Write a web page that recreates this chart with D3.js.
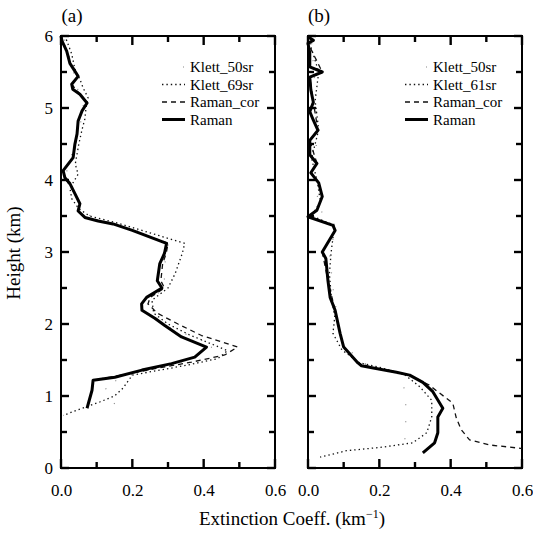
<!DOCTYPE html>
<html>
<head>
<meta charset="utf-8">
<script src="https://cdn.jsdelivr.net/npm/d3@7"></script>
<style>
  body { margin: 0; background: #fff; }
  text { font-family: "Liberation Serif", "Times New Roman", serif; fill: #000; }
</style>
</head>
<body>
<div id="wrapper"></div>
<script>
// ---- data (height km, extinction km^-1) ----
const aRamanH = [6.0,5.93,5.79,5.62,5.55,5.44,5.33,5.26,5.19,5.07,4.96,4.82,4.64,4.5,4.31,4.22,4.13,4.03,3.95,3.81,3.67,3.57,3.48,3.43,3.39,3.3,3.12,2.98,2.84,2.6,2.5,2.37,2.28,2.19,2.08,1.98,1.82,1.68,1.54,1.45,1.36,1.26,1.22,1.08,0.83]
const aRamanV = [0.0,0.003,0.016,0.025,0.034,0.048,0.03,0.033,0.053,0.073,0.059,0.048,0.045,0.039,0.034,0.02,0.006,0.011,0.025,0.039,0.053,0.048,0.067,0.104,0.146,0.2,0.296,0.29,0.277,0.27,0.283,0.24,0.226,0.227,0.263,0.291,0.338,0.408,0.375,0.31,0.227,0.151,0.09,0.087,0.073]

const aRamanCorH = [6.0,5.79,5.62,5.44,5.33,5.19,5.07,4.96,4.82,4.64,4.31,4.13,4.03,3.81,3.67,3.57,3.48,3.39,3.3,3.12,2.98,2.84,2.6,2.5,2.37,2.28,2.15,2.0,1.84,1.68,1.57,1.47,1.38,1.29,1.22]
const aRamanCorV = [0.0,0.016,0.025,0.048,0.03,0.053,0.073,0.059,0.048,0.045,0.034,0.006,0.011,0.039,0.053,0.048,0.067,0.146,0.2,0.3,0.295,0.285,0.28,0.29,0.25,0.244,0.27,0.328,0.394,0.495,0.459,0.366,0.263,0.17,0.09]

const aKlett69H = [5.95,5.75,5.54,5.4,5.28,5.14,5.0,4.85,4.7,4.5,4.22,4.08,3.89,3.74,3.6,3.5,3.4,3.25,3.12,2.98,2.84,2.7,2.5,2.33,2.15,2.0,1.85,1.63,1.52,1.43,1.29,1.11,1.0,0.92,0.85,0.73]
const aKlett69V = [0.015,0.03,0.039,0.053,0.062,0.076,0.07,0.067,0.059,0.05,0.04,0.048,0.025,0.03,0.05,0.08,0.16,0.26,0.347,0.34,0.33,0.32,0.3,0.255,0.26,0.3,0.36,0.467,0.44,0.355,0.2,0.174,0.15,0.11,0.07,0.006]

const aKlett50H = [5.95,5.6,5.2,5.0,4.6,4.1,3.7,3.45,3.3,3.1,2.8,2.5,2.3,2.0,1.7,1.5,1.3,1.15,0.83]
const aKlett50V = [0.01,0.03,0.05,0.065,0.045,0.015,0.05,0.09,0.21,0.3,0.29,0.29,0.24,0.28,0.43,0.36,0.2,0.12,0.157]

const bRamanH = [5.99,5.94,5.9,5.76,5.57,5.5,5.43,5.25,5.08,4.95,4.83,4.69,4.55,4.35,4.23,4.1,3.96,3.77,3.58,3.49,3.37,3.3,3.0,2.91,2.6,2.37,2.19,1.87,1.68,1.46,1.42,1.39,1.33,1.29,1.19,1.06,0.83,0.71,0.49,0.35,0.21]
const bRamanV = [0.0,0.015,0.0,0.005,0.005,0.04,0.005,0.008,0.015,0.005,0.015,0.028,0.005,0.005,0.025,0.008,0.03,0.04,0.025,0.0,0.07,0.076,0.04,0.05,0.056,0.062,0.076,0.09,0.1,0.14,0.15,0.183,0.248,0.285,0.322,0.35,0.378,0.364,0.364,0.355,0.322]

const bRamanCorH = [5.99,5.94,5.9,5.5,5.43,5.08,4.69,4.55,4.23,4.1,3.96,3.77,3.58,3.49,3.37,3.3,3.0,2.6,2.19,1.87,1.68,1.46,1.39,1.29,1.15,0.9,0.69,0.53,0.39,0.32,0.29,0.27]
const bRamanCorV = [0.0,0.015,0.0,0.04,0.005,0.015,0.028,0.005,0.025,0.008,0.03,0.04,0.025,0.0,0.07,0.076,0.04,0.056,0.076,0.09,0.1,0.14,0.183,0.285,0.34,0.406,0.416,0.43,0.453,0.509,0.565,0.6]

const bKlett61H = [5.9,5.5,5.1,4.7,4.3,4.0,3.7,3.5,3.37,3.2,3.0,2.7,2.4,2.1,1.87,1.64,1.46,1.4,1.3,1.13,0.94,0.71,0.49,0.35,0.29,0.24,0.15]
const bKlett61V = [0.005,0.03,0.02,0.03,0.01,0.025,0.035,0.01,0.075,0.07,0.065,0.06,0.065,0.075,0.07,0.095,0.145,0.2,0.27,0.313,0.347,0.347,0.333,0.294,0.21,0.108,0.034]

const bKlett50H = [5.9,5.3,4.7,4.1,3.6,3.35,3.0,2.5,2.0,1.7,1.45,1.3,1.01,0.55,0.3]
const bKlett50V = [0.01,0.02,0.025,0.02,0.03,0.08,0.06,0.07,0.085,0.1,0.16,0.26,0.274,0.274,0.27]

const legendA = ["Klett_50sr", "Klett_69sr", "Raman_cor", "Raman"]
const legendB = ["Klett_50sr", "Klett_61sr", "Raman_cor", "Raman"]
const xTicks = [0, 0.2, 0.4, 0.6]
const xMinorTicks = [0.1, 0.3, 0.5]
const yTicks = [0, 1, 2, 3, 4, 5, 6]
const yMinorTicks = [0.5, 1.5, 2.5, 3.5, 4.5, 5.5]

// ---- layout ----
const width = 533
const height = 534
const plotTop = 36
const plotBottom = 468

const styles = [
  {dash: "1,16", width: 1.2, color: "#888"},   // Klett_50sr
  {dash: "1.4,3", width: 1.3, color: "#111"},  // Klett_xxsr
  {dash: "5,4", width: 1.3, color: "#111"},    // Raman_cor
  {dash: null, width: 3, color: "#000"},       // Raman
]

const svg = d3.select("#wrapper")
  .append("svg")
    .attr("width", width)
    .attr("height", height)

const yScale = d3.scaleLinear().domain([0, 6]).range([plotBottom, plotTop])

const lineGen = (xScale) => d3.line()
  .x(d => xScale(d[1]))
  .y(d => yScale(d[0]))

function zip(h, v) {
  return h.map((d, i) => [d, v[i]])
}

function drawPanel(left, right, label, series, legendNames, legendX, showYLabels) {
  const xScale = d3.scaleLinear().domain([0, 0.6]).range([left, right])
  const g = svg.append("g")

  // tick labels via axes (no tick lines), tick marks drawn inward below
  g.append("g")
    .attr("transform", `translate(0,${plotBottom})`)
    .call(d3.axisBottom(xScale).tickValues(xTicks).tickSize(0).tickPadding(16)
      .tickFormat(d3.format(".1f")))
  if (showYLabels) {
    g.append("g")
      .attr("transform", `translate(${left},0)`)
      .call(d3.axisLeft(yScale).tickValues(yTicks).tickSize(0).tickPadding(8)
        .tickFormat(d3.format("d")))
  }
  g.selectAll(".domain").remove()
  g.selectAll(".tick line").remove()
  g.selectAll(".tick text")
    .style("font-family", '"Liberation Serif", serif')
    .style("font-size", "17px")
    .attr("fill", "#000")

  const xt = xTicks.map(d => [d, 9]).concat(xMinorTicks.map(d => [d, 6]))
  const yt = yTicks.map(d => [d, 8]).concat(yMinorTicks.map(d => [d, 6]))

  const marks = g.append("g")
    .attr("stroke", "#000")
    .attr("stroke-width", 2.4)
  ;[[plotBottom, -1], [plotTop, 1]].forEach(([yy, dir]) => {
    marks.selectAll(null).data(xt).join("line")
      .attr("x1", d => xScale(d[0]))
      .attr("x2", d => xScale(d[0]))
      .attr("y1", yy)
      .attr("y2", d => yy + dir * d[1])
  })
  ;[[left, 1], [right, -1]].forEach(([xx, dir]) => {
    marks.selectAll(null).data(yt).join("line")
      .attr("x1", xx)
      .attr("x2", d => xx + dir * d[1])
      .attr("y1", d => yScale(d[0]))
      .attr("y2", d => yScale(d[0]))
  })

  // frame
  g.append("rect")
    .attr("x", left)
    .attr("y", plotTop)
    .attr("width", right - left)
    .attr("height", plotBottom - plotTop)
    .attr("fill", "none")
    .attr("stroke", "#000")
    .attr("stroke-width", 2)

  // curves
  series.forEach((s, i) => {
    g.append("path")
      .attr("d", lineGen(xScale)(s))
      .attr("fill", "none")
      .attr("stroke", styles[i].color)
      .attr("stroke-width", styles[i].width)
      .attr("stroke-dasharray", styles[i].dash)
      .attr("stroke-linejoin", "round")
  })

  // legend
  const leg = g.append("g")
  legendNames.forEach((name, i) => {
    const yy = 67 + i * 17.5
    leg.append("line")
      .attr("x1", legendX - 28)
      .attr("x2", legendX - 5)
      .attr("y1", yy)
      .attr("y2", yy)
      .attr("stroke", styles[i].color)
      .attr("stroke-width", styles[i].width)
      .attr("stroke-dasharray", i == 0 ? "0,21,1,4" : styles[i].dash)
    leg.append("text")
      .attr("x", legendX)
      .attr("y", yy + 5)
      .style("font-size", "15px")
      .text(name)
  })

  // panel label
  g.append("text")
    .attr("x", left + 11)
    .attr("y", 22)
    .attr("text-anchor", "middle")
    .style("font-size", "19px")
    .text(label)
}

drawPanel(61, 275, "(a)",
  [zip(aKlett50H, aKlett50V), zip(aKlett69H, aKlett69V), zip(aRamanCorH, aRamanCorV), zip(aRamanH, aRamanV)],
  legendA, 190, true)

drawPanel(308, 522, "(b)",
  [zip(bKlett50H, bKlett50V), zip(bKlett61H, bKlett61V), zip(bRamanCorH, bRamanCorV), zip(bRamanH, bRamanV)],
  legendB, 433, false)

// axis titles
svg.append("text")
  .attr("transform", `translate(20,253) rotate(-90)`)
  .attr("text-anchor", "middle")
  .style("font-size", "19px")
  .text("Height (km)")

const xTitle = svg.append("text")
  .attr("x", 292)
  .attr("y", 525)
  .attr("text-anchor", "middle")
  .style("font-size", "19px")
xTitle.append("tspan").text("Extinction Coeff. (km")
xTitle.append("tspan").attr("dy", -7).style("font-size", "12px").text("−1")
xTitle.append("tspan").attr("dy", 7).text(")")
</script>
</body>
</html>
